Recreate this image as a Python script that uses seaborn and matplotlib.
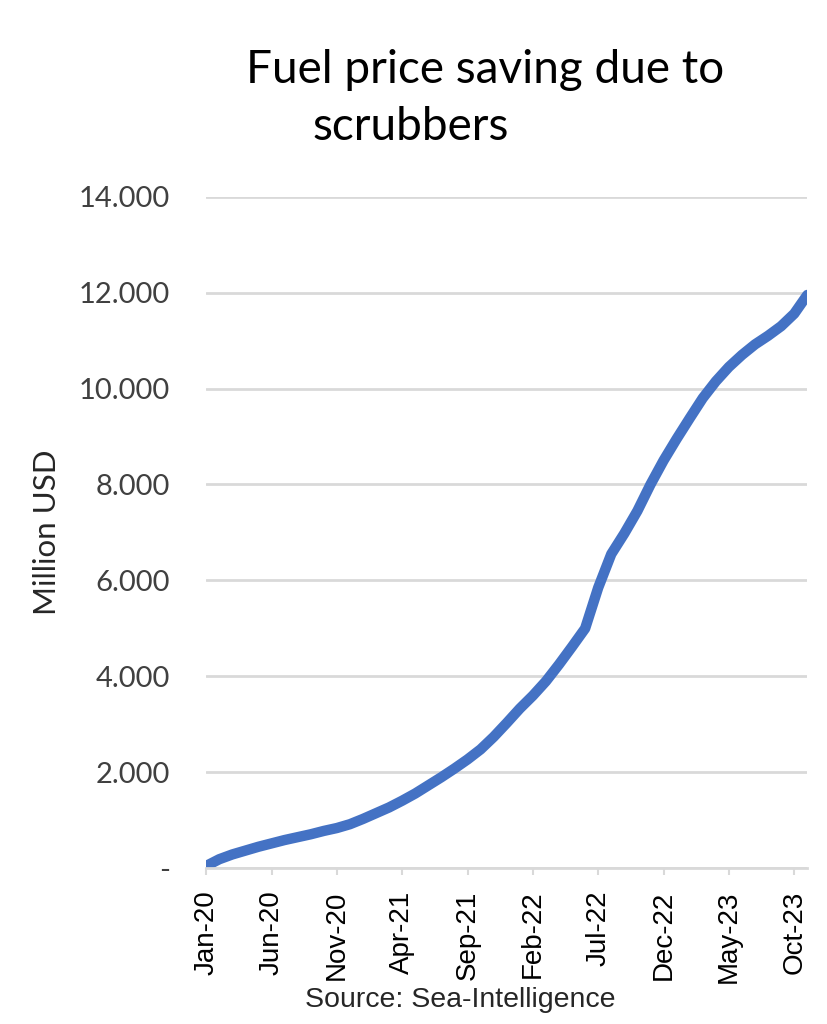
import pandas as pd
import matplotlib.pyplot as plt
import seaborn as sns

# monthly cumulative saving, Jan-20 .. Nov-23 (million USD)
months = pd.date_range('2020-01-01', '2023-11-01', freq='MS')
saving = [50, 190, 290, 370, 450, 520, 590, 650, 710, 780,
          840, 920, 1030, 1150, 1270, 1410, 1560, 1730, 1900, 2080,
          2270, 2480, 2740, 3030, 3330, 3600, 3900, 4250, 4620, 5000,
          5850, 6550, 6980, 7450, 8000, 8500, 8950, 9380, 9800, 10150,
          10450, 10700, 10920, 11100, 11300, 11560, 11950]
tick_step = 5
y_ticks = [0, 2000, 4000, 6000, 8000, 10000, 12000, 14000]

df = pd.DataFrame({'idx': range(len(months)), 'saving': saving})
tick_idx = list(range(0, len(months), tick_step))
tick_labels = [months[i].strftime('%b-%y') for i in tick_idx]
y_labels = ['-' if v == 0 else f'{v:,}'.replace(',', '.') for v in y_ticks]

sns.set_style('white')
plt.rcParams['font.family'] = ['Lato', 'DejaVu Sans']

fig = plt.figure(figsize=(8.28, 10.24), dpi=100)
ax = fig.add_axes([0.249, 0.152, 0.726, 0.656])

sns.lineplot(data=df, x='idx', y='saving', ax=ax, color='#4472C4',
             linewidth=7.5, solid_capstyle='round', solid_joinstyle='round')

ax.set_xlim(0, len(months) - 1)
ax.set_ylim(0, 14000)
ax.set_yticks(y_ticks)
ax.set_yticklabels(y_labels, fontsize=21, color='#404040')
ax.set_xticks(tick_idx)
ax.set_xticklabels(tick_labels, rotation=90, fontsize=20,
                   family='Liberation Sans', color='black')
ax.tick_params(axis='y', length=0, pad=26)
ax.tick_params(axis='x', length=5, width=1.5, color='#d9d9d9', pad=11,
               bottom=True)
ax.grid(axis='y', color='#d9d9d9', linewidth=2)
ax.set_axisbelow(True)
for s in ['top', 'right', 'left']:
    ax.spines[s].set_visible(False)
ax.spines['bottom'].set_color('#d9d9d9')
ax.spines['bottom'].set_linewidth(2)
ax.set_xlabel('')
ax.set_ylabel('Million USD', fontsize=22.5, labelpad=13)

fig.text(0.586, 0.932, 'Fuel price saving due to', ha='center', va='center',
         fontsize=33, color='black')
fig.text(0.496, 0.876, 'scrubbers', ha='center', va='center',
         fontsize=33, color='black')
fig.text(0.556, 0.023, 'Source: Sea-Intelligence', ha='center', va='center',
         fontsize=20.5, family='Liberation Sans')

plt.savefig('out.png', dpi=100)
